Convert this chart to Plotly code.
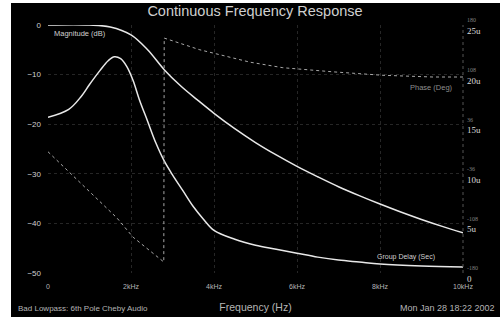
import plotly.graph_objects as go

# ---- data ----
mag_freq_hz = [0, 1000, 1500, 2000, 2400, 2800, 3200, 3600, 4000, 4500, 5000, 5500, 6000,
               6500, 7000, 7500, 8000, 8500, 9000, 9500, 10000]
mag_db = [0, 0, -0.4, -2.0, -5.0, -9.0, -12.3, -15.1, -17.8, -20.9, -23.7, -26.2, -28.5,
          -30.6, -32.6, -34.4, -36.1, -37.7, -39.2, -40.6, -41.9]

gd_freq_hz = [0, 500, 800, 1000, 1250, 1450, 1600, 1750, 1900, 2050, 2200, 2400, 2600, 2800,
              3000, 3250, 3500, 3750, 4000, 4500, 5000, 5500, 6000, 6500, 7000, 7500, 8000,
              9000, 10000]
gd_us = [15.7, 16.5, 17.8, 19.0, 20.4, 21.4, 21.8, 21.6, 20.8, 19.4, 17.5, 15.3, 13.1, 11.3,
         9.9, 8.3, 6.7, 5.4, 4.3, 3.4, 2.8, 2.4, 2.0, 1.6, 1.3, 1.1, 0.9, 0.7, 0.6]

ph_freq_hz = [0, 1660, 2050, 2790, 2800, 3660, 4870, 5660, 6870, 8070, 9280, 10000]
ph_deg = [-4, -100, -128, -164, 161, 144, 126, 118, 112, 107, 104.5, 104.5]

x_tickvals = [0, 2000, 4000, 6000, 8000, 10000]
x_ticktext = ["0", "2kHz", "4kHz", "6kHz", "8kHz", "10kHz"]
db_ticks = [0, -10, -20, -30, -40, -50]
gd_ticks = [25, 20, 15, 10, 5, 0]
gd_tick_labels = ["25u", "20u", "15u", "10u", "5u", "0"]
ph_tick_labels = ["180", "108", "36", "-36", "-108", "-180"]

title_text = "Continuous Frequency Response"
footer_left = "Bad Lowpass: 6th Pole Cheby Audio"
footer_right = "Mon Jan 28 18:22 2002"

# ---- figure ----
# the scanned page shows a white strip on the left (11 px) and on top (3 px);
# the figure is offset by that much inside the white page.
OX, OY = 11, 3
W, H = 500 - OX, 317 - OY
L, R, T, B = 48 - OX, 37, 25 - OY, 44
PW, PH = W - L - R, H - T - B

def px_x(px):          # page pixel -> paper x
    return (px - OX - L) / PW

def px_y(py):          # page pixel -> paper y
    return (H - B - (py - OY)) / PH

fig = go.Figure()

fig.add_trace(go.Scatter(x=ph_freq_hz, y=ph_deg, yaxis="y3", mode="lines",
                         line=dict(color="#a8a8a8", width=1, dash="dot"),
                         name="Phase", showlegend=False))
fig.add_trace(go.Scatter(x=mag_freq_hz, y=mag_db, mode="lines",
                         line=dict(color="#e8e8e8", width=1.5, shape="spline", smoothing=1.0),
                         name="Magnitude", showlegend=False))
fig.add_trace(go.Scatter(x=gd_freq_hz, y=gd_us, yaxis="y2", mode="lines",
                         line=dict(color="#e8e8e8", width=1.5, shape="spline", smoothing=1.0),
                         name="Group Delay", showlegend=False))

gd_text = [f"<span style='color:#808080;font-size:6px'>{p}</span><br>{g}"
           for p, g in zip(ph_tick_labels, gd_tick_labels)]

grid = dict(showgrid=True, gridcolor="#262626", griddash="dot", gridwidth=1)

fig.update_layout(
    width=W, height=H,
    margin=dict(l=L, r=R, t=T, b=B, pad=0, autoexpand=False),
    paper_bgcolor="black", plot_bgcolor="black",
    font=dict(family="Liberation Sans", color="#d8d8d8", size=8),
    title=dict(text=title_text, x=(255 - OX) / W, xanchor="center", y=1 - (10.5 - OY) / H,
               yanchor="middle", font=dict(size=14.5, color="#cfcfcf", family="Liberation Sans")),
    xaxis=dict(range=[0, 10000], tickvals=x_tickvals, ticktext=x_ticktext, automargin=False,
               tickfont=dict(size=7, color="#b5b5b5"), ticks="", zeroline=False,
               showline=False, ticklabelstandoff=8,
               title=dict(text="Frequency (Hz)", font=dict(size=10.5, color="#b5b5b5"),
                          standoff=14),
               **grid),
    yaxis=dict(range=[-50, 0], tickvals=db_ticks, ticks="", zeroline=False, showline=False,
               automargin=False, tickfont=dict(size=8, color="#cfcfcf"), ticklabelstandoff=6,
               **grid),
    yaxis2=dict(range=[0, 25], overlaying="y", side="right", tickvals=gd_ticks, ticktext=gd_text,
                ticks="", showgrid=False, zeroline=False, showline=False, automargin=False,
                tickfont=dict(size=9, color="#d8d8d8", family="Liberation Serif"),
                ticklabelstandoff=3),
    yaxis3=dict(range=[-180, 180], overlaying="y", showticklabels=False, showgrid=False,
                zeroline=False, ticks="", automargin=False),
)

fig.add_annotation(x=100, y=-1.8, xref="x", yref="y", text="Magnitude (dB)", showarrow=False,
                   xanchor="left", yanchor="middle", font=dict(size=7.5, color="#d0d0d0"))
fig.add_annotation(x=9810, y=-12.7, xref="x", yref="y", text="Phase (Deg)", showarrow=False,
                   xanchor="right", yanchor="middle", font=dict(size=7.5, color="#8f8f8f"))
fig.add_annotation(x=9370, y=-46.8, xref="x", yref="y", text="Group Delay (Sec)", showarrow=False,
                   xanchor="right", yanchor="middle", font=dict(size=7, color="#d0d0d0"))
fig.add_annotation(x=px_x(16), y=px_y(308), xref="paper", yref="paper", text=footer_left,
                   showarrow=False, xanchor="left", yanchor="middle",
                   font=dict(size=8, color="#b5b5b5"))
fig.add_annotation(x=px_x(497), y=px_y(308), xref="paper", yref="paper", text=footer_right,
                   showarrow=False, xanchor="right", yanchor="middle",
                   font=dict(size=9, color="#b5b5b5"))

# dotted right border of the plot area
fig.add_shape(type="line", xref="paper", yref="paper", x0=1, x1=1, y0=0, y1=1,
              line=dict(color="#555", width=1, dash="dot"))

post = ("document.body.style.margin='0px';document.body.style.background='white';"
        "var d=document.getElementById('{plot_id}');"
        f"d.style.marginLeft='{OX}px';d.style.marginTop='{OY}px';")

fig.write_html("out.html", config={"displayModeBar": False}, post_script=post)
